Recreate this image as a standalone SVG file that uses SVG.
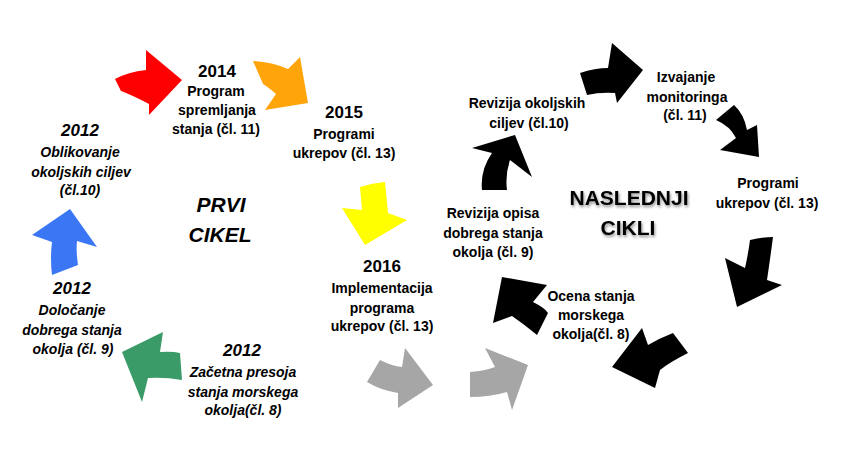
<svg xmlns="http://www.w3.org/2000/svg" width="848" height="466" viewBox="0 0 848 466">
<defs>
<style>
text{font-family:"Liberation Sans",Arial,sans-serif;font-weight:bold;text-anchor:middle;fill:#000;}
.t{font-size:14px;}
.y{font-size:17px;}
.i{font-style:italic;}
.big{font-size:21px;}
.sh{filter:url(#shadow);}
</style>
<filter id="shadow" x="-20%" y="-30%" width="140%" height="160%">
<feGaussianBlur in="SourceAlpha" stdDeviation="1.5"/>
<feOffset dx="1" dy="2" result="b"/>
<feComponentTransfer><feFuncA type="linear" slope="0.45"/></feComponentTransfer>
<feMerge><feMergeNode/><feMergeNode in="SourceGraphic"/></feMerge>
</filter>
</defs>
<rect width="848" height="466" fill="#fff"/>
<g id="connectors">
<path fill="#FF0000" d="M115,79 Q128,72 146,70 L146,50 L182,80 L149,115 L149,104 Q132,95 121,91 Z"/>
<path fill="#FFA50A" d="M253,61 Q272,62 288,69 L300,57 L308,103 L265,110 L276,94 Q268,87 263,84 Z"/>
<path fill="#FFFF00" d="M360,187 Q372,183 385,182 L388,213 L407,220 L365,245 L342,208 L362,210 Z"/>
<path fill="#A6A6A6" d="M380,360 Q392,366 402,367 L405,348 L433,385 L398,408 L398,393 Q380,390 367,382 Z"/>
<path fill="#A6A6A6" d="M470,372 Q485,371 495,367 L485,348 L528,365 L512,410 L507,392 Q490,397 470,397 Z"/>
<path fill="#000" d="M612,367 L642,328 L648,345 Q660,338 673,333 L688,353 Q670,362 660,370 L655,388 Z"/>
<path fill="#000" d="M502,277 L547,285 L533,302 Q545,308 548,313 L537,335 Q525,325 512,316 L493,323 Z"/>
<path fill="#000" d="M482,190 Q480,170 492,153 L472,148 L515,135 L532,177 L510,160 Q505,175 507,190 Z"/>
<path fill="#000" d="M580,73 Q595,68 608,68 L612,43 L643,70 L617,103 L615,93 Q600,92 587,95 Z"/>
<path fill="#000" d="M716,120 L734,105 Q744,114 747,130 L757,125 L759,157 L720,150 L736,138 Q730,126 716,120 Z"/>
<path fill="#000" d="M750,240 Q762,237 773,237 Q770,260 767,280 L782,285 L737,307 L725,258 L745,268 Q748,255 750,240 Z"/>
<path fill="#3A9B68" d="M122,352 L163,332 L160,352 Q172,351 180,353 L182,380 Q165,377 148,378 L142,402 Z"/>
<path fill="#3B77F5" d="M52,275 Q50,258 52,242 L32,235 L70,209 L97,247 L77,241 Q76,252 78,265 Z"/>
</g>
<g id="n2014">
<text class="y" x="217" y="77">2014</text>
<text class="t" x="216" y="96">Program</text>
<text class="t" x="217" y="115">spremljanja</text>
<text class="t" x="216" y="134">stanja (čl. 11)</text>
</g>
<g id="n2015">
<text class="y" x="344" y="118">2015</text>
<text class="t" x="344" y="139">Programi</text>
<text class="t" x="344" y="158">ukrepov (čl. 13)</text>
</g>
<g id="n2016">
<text class="y" x="382" y="272">2016</text>
<text class="t" x="382" y="293">Implementacija</text>
<text class="t" x="382" y="313">programa</text>
<text class="t" x="382" y="331">ukrepov (čl. 13)</text>
</g>
<g id="n2012a">
<text class="y i" x="80" y="136">2012</text>
<text class="t i" x="80" y="157">Oblikovanje</text>
<text class="t i" x="81" y="177">okoljskih ciljev</text>
<text class="t i" x="80" y="195">(čl.10)</text>
</g>
<g id="n2012b">
<text class="y i" x="72" y="294">2012</text>
<text class="t i" x="72" y="315">Določanje</text>
<text class="t i" x="72" y="335">dobrega stanja</text>
<text class="t i" x="73" y="354">okolja (čl. 9)</text>
</g>
<g id="n2012c">
<text class="y i" x="242" y="356">2012</text>
<text class="t i" x="243" y="377">Začetna presoja</text>
<text class="t i" x="243" y="397">stanja morskega</text>
<text class="t i" x="243" y="415">okolja(čl. 8)</text>
</g>
<g id="prvi">
<text class="big i" x="221" y="212">PRVI</text>
<text class="big i" x="220" y="242">CIKEL</text>
</g>
<g id="nasledni">
<text class="big sh" x="629" y="205">NASLEDNJI</text>
<text class="big sh" x="628" y="235">CIKLI</text>
</g>
<g id="izvajanje">
<text class="t" x="686" y="82">Izvajanje</text>
<text class="t" x="687" y="102">monitoringa</text>
<text class="t" x="685" y="120">(čl. 11)</text>
</g>
<g id="revizija-ciljev">
<text class="t" x="527" y="108">Revizija okoljskih</text>
<text class="t" x="529" y="128">ciljev (čl.10)</text>
</g>
<g id="programi-r">
<text class="t" x="768" y="188">Programi</text>
<text class="t" x="767" y="208">ukrepov (čl. 13)</text>
</g>
<g id="revizija-opisa">
<text class="t" x="493" y="218">Revizija opisa</text>
<text class="t" x="493" y="238">dobrega stanja</text>
<text class="t" x="493" y="257">okolja (čl. 9)</text>
</g>
<g id="ocena">
<text class="t" x="591" y="301">Ocena stanja</text>
<text class="t" x="591" y="320">morskega</text>
<text class="t" x="591" y="339">okolja(čl. 8)</text>
</g>
</svg>
